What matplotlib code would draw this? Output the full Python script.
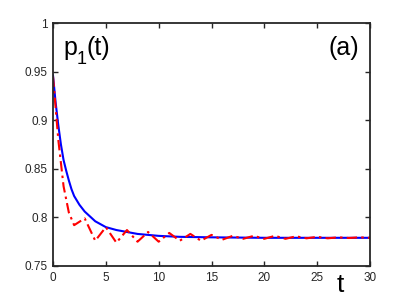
import matplotlib
matplotlib.use("Agg")
import matplotlib.pyplot as plt
from matplotlib.ticker import FormatStrFormatter

# blue curve (smooth decay)
t_blue = [0, 0.25, 0.5, 0.75, 1, 1.25, 1.5, 1.75, 2, 2.5, 3, 3.5, 4, 4.5, 5, 6, 7, 8, 10, 12, 15, 20, 25, 30]
p_blue = [0.946, 0.918, 0.895, 0.875, 0.859, 0.848, 0.838, 0.829, 0.822, 0.813, 0.806, 0.801,
          0.796, 0.793, 0.790, 0.787, 0.785, 0.783, 0.781, 0.780, 0.7795, 0.779, 0.779, 0.779]

# red curve (oscillating)
t_red = [0, 0.5, 1, 1.5, 2, 3, 4, 5, 6, 7, 8, 9, 10, 11, 12, 13, 14, 15, 16, 17, 18, 19, 20,
         21, 22, 23, 24, 25, 26, 27, 28, 29, 30]
p_red = [0.945, 0.88, 0.832, 0.805, 0.792, 0.799, 0.776, 0.790, 0.774, 0.787, 0.775, 0.785,
         0.775, 0.784, 0.776, 0.783, 0.776, 0.782, 0.777, 0.781, 0.778, 0.781, 0.778,
         0.781, 0.778, 0.7805, 0.7785, 0.780, 0.7785, 0.7795, 0.7788, 0.7795, 0.779]

xticks = [0, 5, 10, 15, 20, 25, 30]
yticks = [0.75, 0.8, 0.85, 0.9, 0.95, 1]

plt.rcParams['font.family'] = ['Liberation Sans', 'DejaVu Sans']

W, H = 409, 298
fig = plt.figure(figsize=(W / 100, H / 100), dpi=100)
ax = fig.add_axes([53 / W, 32 / H, 317 / W, 243 / H])

ax.plot(t_blue, p_blue, color='#0000ff', lw=1.5)
ax.plot(t_red, p_red, color='#ff0000', lw=1.5, ls=(0, (5, 2, 1.2, 2)))

ax.set_xlim(0, 30)
ax.set_ylim(0.75, 1)
ax.set_xticks(xticks)
ax.set_yticks(yticks)
ax.yaxis.set_major_formatter(FormatStrFormatter('%g'))

grey = '#262626'
for s in ax.spines.values():
    s.set_linewidth(1.3)
    s.set_color(grey)
ax.tick_params(direction='in', top=True, right=True, length=3.5, width=1,
               labelsize=8.5, colors=grey, pad=4)

# panel label p_1(t), subscript set low as in the original
fig.text(63 / W, 1 - 55 / H, 'p', fontsize=18, va='baseline', ha='left')
fig.text(77 / W, 1 - 64 / H, '1', fontsize=13, va='baseline', ha='left')
fig.text(87 / W, 1 - 55 / H, '(t)', fontsize=18, va='baseline', ha='left')
fig.text(359 / W, 1 - 55 / H, '(a)', fontsize=18, va='baseline', ha='right')
fig.text(340 / W, 1 / H, 't', fontsize=19, ha='center', va='bottom')

fig.savefig('out.png', dpi=100)
